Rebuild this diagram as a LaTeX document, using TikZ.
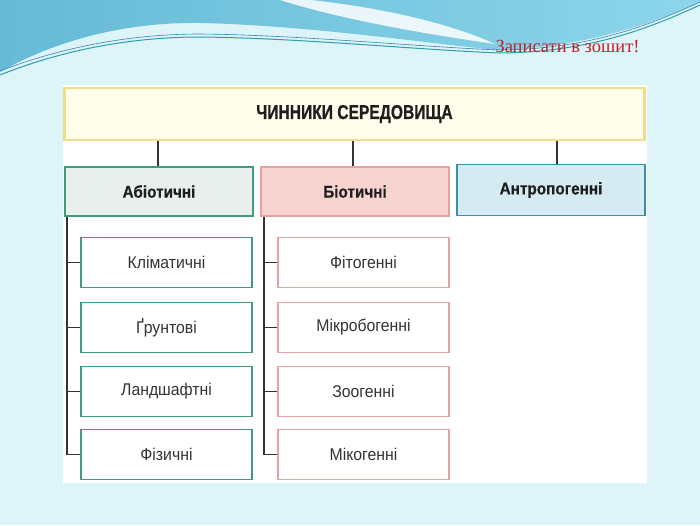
\documentclass[tikz,border=0pt]{standalone}
\usepackage{fontspec}
\setmainfont{Liberation Sans}
\newfontfamily\ttlfont[FakeStretch=0.78,FakeBold=0.6]{Liberation Sans Bold}
\newfontfamily\hdrfont[FakeStretch=0.9,FakeBold=0.4]{Liberation Sans Bold}
\newfontfamily\kidfont[FakeStretch=0.93]{Liberation Sans}
\newfontfamily\serfont{Liberation Serif}
\definecolor{bgc}{HTML}{DDF4F9}
\definecolor{blueL}{HTML}{66BAD7}
\definecolor{blueR}{HTML}{8CD6EA}
\definecolor{wave}{HTML}{2AA0A8}
\definecolor{wave2}{HTML}{3C7FC0}
\definecolor{ttl}{HTML}{C3202E}
\definecolor{topfill}{HTML}{FFFDEB}
\definecolor{topdraw}{HTML}{F3DC88}
\definecolor{abifill}{HTML}{E9EFED}
\definecolor{abidraw}{HTML}{3E9E7E}
\definecolor{biofill}{HTML}{F8D4D1}
\definecolor{biodraw}{HTML}{E0A4A3}
\definecolor{antfill}{HTML}{D4EBF2}
\definecolor{antdraw}{HTML}{3A90A4}
\definecolor{txt}{HTML}{1E1E1E}
\definecolor{kidtxt}{HTML}{333333}
\definecolor{conn}{HTML}{333333}
\tikzset{
  box/.style={rectangle, inner sep=0pt, line width=1.8pt, text=txt},
  hdr/.style={box, minimum width=188pt, minimum height=49pt, font=\hdrfont\fontsize{17}{20}\selectfont},
  kid/.style={box, fill=white, text=kidtxt, minimum width=171pt, minimum height=50pt, font=\kidfont\fontsize{17}{20}\selectfont},
  abikid/.style={kid, draw=abidraw},
  biokid/.style={kid, draw=biodraw},
  link/.style={draw=conn, line width=1.3pt},
}
\begin{document}
\begin{tikzpicture}[x=1pt,y=-1pt]
\useasboundingbox (0,0) rectangle (700,525);
% background
\fill[bgc] (0,0) rectangle (700,525);
\shade[left color=blueL, right color=blueR]
  (0,0) -- (700,0) -- (700,2)
  .. controls (650,25) and (580,48) .. (495,50)
  .. controls (420,42) and (300,25) .. (200,23)
  .. controls (130,22) and (60,38) .. (0,72) -- cycle;
\fill[white, opacity=0.85]
  (311,0) .. controls (400,10) and (460,28) .. (495,44)
  .. controls (440,36) and (350,22) .. (280,0) -- cycle;
\draw[wave, line width=1pt]
  (0,75) .. controls (70,47) and (140,37) .. (200,37)
  .. controls (300,38) and (420,50) .. (500,53)
  .. controls (590,52) and (650,28) .. (700,5);
\draw[wave2, line width=0.6pt]
  (0,71) .. controls (70,44) and (140,34) .. (200,34)
  .. controls (300,35) and (420,47) .. (500,50)
  .. controls (590,49) and (650,25) .. (700,2);
\node[font=\serfont\fontsize{18.5}{21}\selectfont, text=ttl, anchor=base] (note) at (567.5,52) {Записати в зошит!};
% picture area
\fill[white] (63,85) rectangle (647,483);
% nodes
\node[box, draw=topdraw, fill=topfill, line width=2.4pt, minimum width=580pt, minimum height=52pt,
      font=\ttlfont\fontsize{20}{24}\selectfont] (top) at (354.5,114) {ЧИННИКИ СЕРЕДОВИЩА};
\node[hdr, draw=abidraw, fill=abifill] (abi) at (159,191.5) {Абіотичні};
\node[hdr, draw=biodraw, fill=biofill] (bio) at (355,191.5) {Біотичні};
\node[hdr, draw=antdraw, fill=antfill, minimum height=51pt] (ant) at (551,190) {Антропогенні};
\node[abikid] (a1) at (166.5,262.5) {Кліматичні};
\node[abikid] (a2) at (166.5,327.5) {Ґрунтові};
\node[abikid] (a3) at (166.5,391.5) {Ландшафтні};
\node[abikid] (a4) at (166.5,454.5) {Фізичні};
\node[biokid] (b1) at (363.5,262.5) {Фітогенні};
\node[biokid] (b2) at (363.5,327.5) {Мікробогенні};
\node[biokid] (b3) at (363.5,391.5) {Зоогенні};
\node[biokid] (b4) at (363.5,454.5) {Мікогенні};
% connectors
\draw[link] ([xshift=-1pt]abi.north) -- ([xshift=-1pt]abi.north |- top.south);
\draw[link] ([xshift=-2pt]bio.north) -- ([xshift=-2pt]bio.north |- top.south);
\draw[link] ([xshift=6pt]ant.north) -- ([xshift=6pt]ant.north |- top.south);
\coordinate (as) at ([xshift=3pt]abi.south west);
\coordinate (bs) at ([xshift=4pt]bio.south west);
\draw[link] (as) |- (a4.west);
\draw[link] (a1.west) -- (a1.west -| as);
\draw[link] (a2.west) -- (a2.west -| as);
\draw[link] (a3.west) -- (a3.west -| as);
\draw[link] (bs) |- (b4.west);
\draw[link] (b1.west) -- (b1.west -| bs);
\draw[link] (b2.west) -- (b2.west -| bs);
\draw[link] (b3.west) -- (b3.west -| bs);
\end{tikzpicture}
\end{document}
